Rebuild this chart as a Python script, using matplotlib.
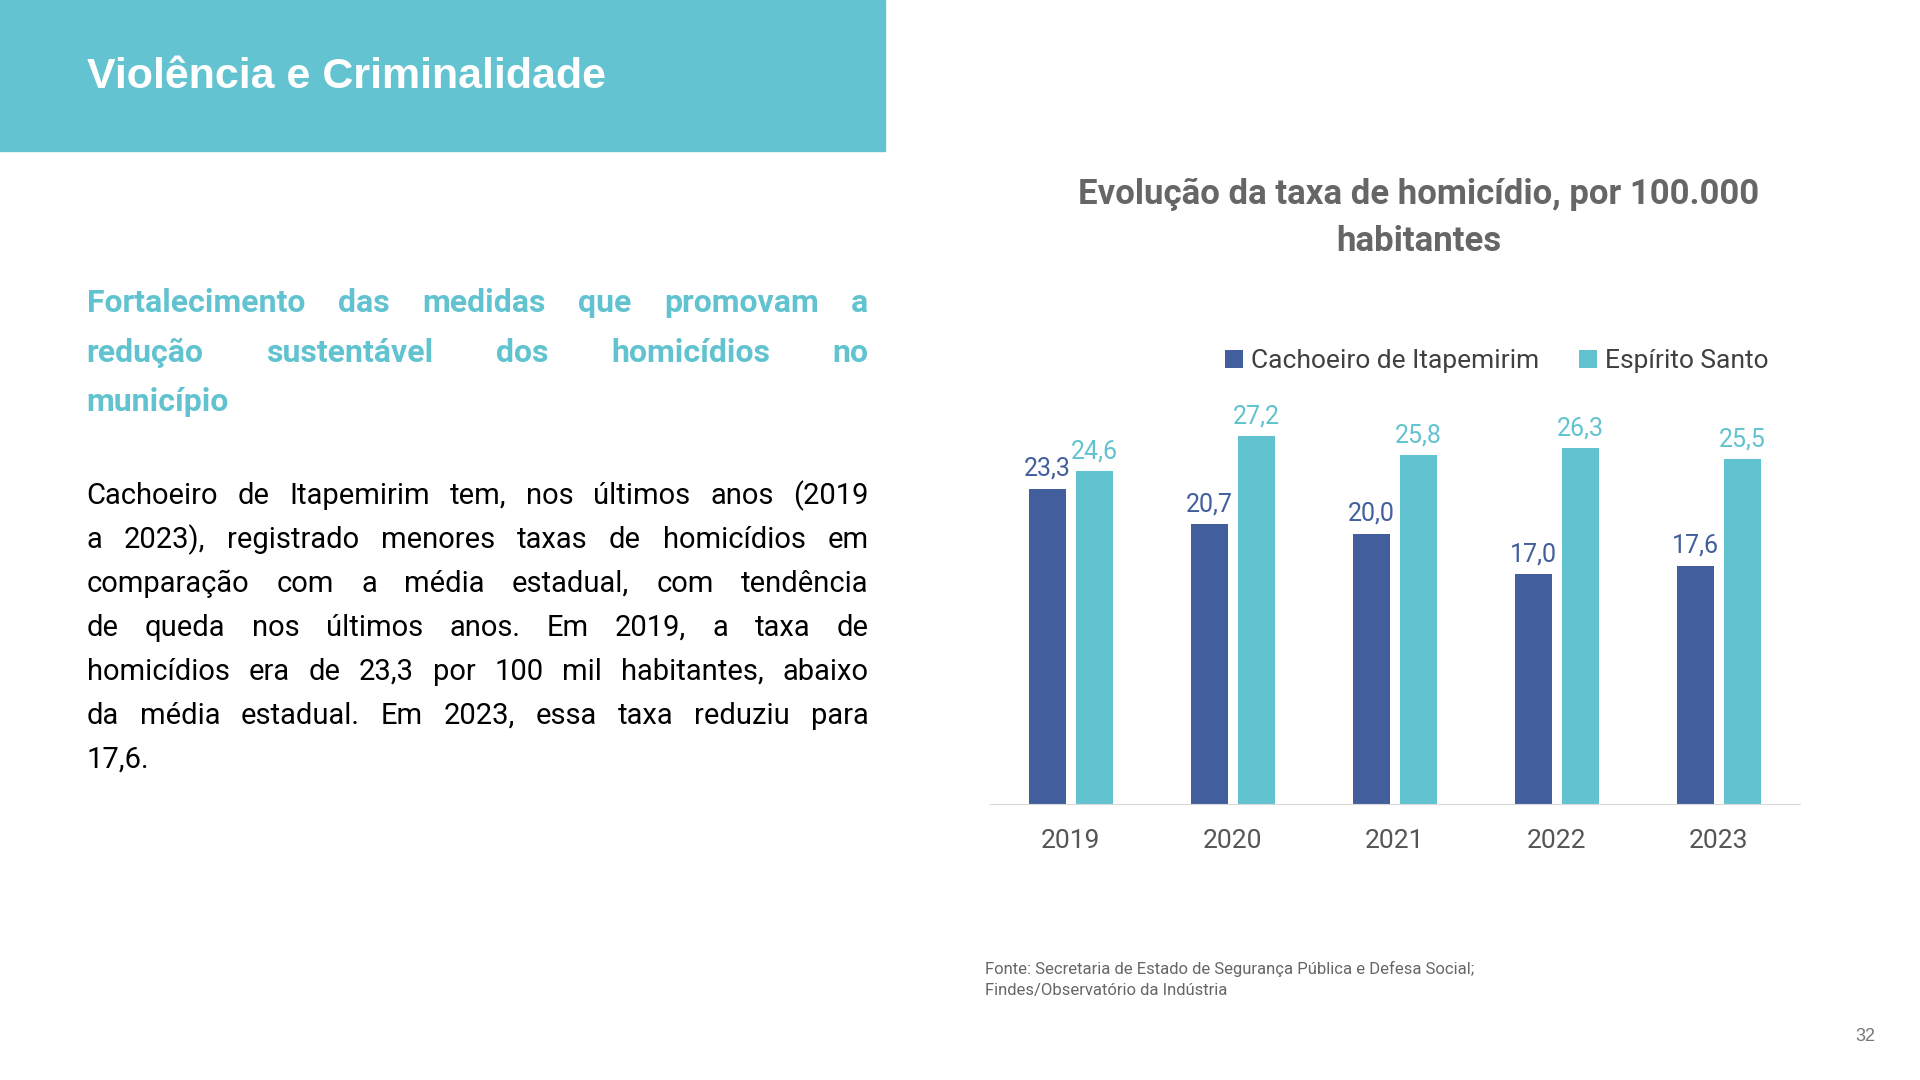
import matplotlib
matplotlib.use("Agg")
import matplotlib.pyplot as plt
import numpy as np

FONT = ['Liberation Sans Narrow', 'Roboto', 'DejaVu Sans']
plt.rcParams['font.family'] = FONT

years = ['2019', '2020', '2021', '2022', '2023']
cachoeiro = [23.3, 20.7, 20.0, 17.0, 17.6]
espirito = [24.6, 27.2, 25.8, 26.3, 25.5]
series_names = ['Cachoeiro de Itapemirim', 'Espírito Santo']

DARK = '#425E9C'
TEAL = '#62C3D0'
GRAY = '#666666'

W, H = 1552.0, 873.0
def fx(x): return x / W
def fy(y): return 1 - y / H

fig = plt.figure(figsize=(19.2, 10.8), dpi=100)

# header band
fig.patches.append(plt.Rectangle((0, fy(122)), fx(715), 122 / H, transform=fig.transFigure,
                                 color='#63C3D0', zorder=0))
fig.text(fx(70), fy(62), 'Violência e Criminalidade', color='white', fontsize=31,
         fontweight='bold', family=['Liberation Sans', 'DejaVu Sans'], va='center')

renderer = fig.canvas.get_renderer()

def justify(lines, x0, x1, y0, dy, **kw):
    for i, line in enumerate(lines):
        y = fy(y0 + i * dy)
        words = line.split()
        if i == len(lines) - 1 or len(words) == 1:
            fig.text(fx(x0), y, line, va='center', **kw)
            continue
        ts = [fig.text(0, y, w, va='center', **kw) for w in words]
        widths = [t.get_window_extent(renderer).width / fig.bbox.width for t in ts]
        gap = (fx(x1) - fx(x0) - sum(widths)) / (len(words) - 1)
        x = fx(x0)
        for t, w in zip(ts, widths):
            t.set_x(x)
            x += w + gap

justify(['Fortalecimento das medidas que promovam a',
         'redução sustentável dos homicídios no',
         'município'], 70, 702, 245, 40, color=TEAL, fontsize=23, fontweight='bold')

justify(['Cachoeiro de Itapemirim tem, nos últimos anos (2019',
         'a 2023), registrado menores taxas de homicídios em',
         'comparação com a média estadual, com tendência',
         'de queda nos últimos anos. Em 2019, a taxa de',
         'homicídios era de 23,3 por 100 mil habitantes, abaixo',
         'da média estadual. Em 2023, essa taxa reduziu para',
         '17,6.'], 70, 702, 401, 35.5, color='black', fontsize=21)

fig.text(fx(1147), fy(157), 'Evolução da taxa de homicídio, por 100.000', ha='center', va='center',
         color=GRAY, fontsize=25, fontweight='bold')
fig.text(fx(1147), fy(195), 'habitantes', ha='center', va='center',
         color=GRAY, fontsize=25, fontweight='bold')

# chart
ax = fig.add_axes([fx(800), fy(650), fx(1455) - fx(800), (650 - 322) / H])
x = np.arange(len(years))
off, bw = 0.145, 0.23
b1 = ax.bar(x - off, cachoeiro, bw, color=DARK, label=series_names[0])
b2 = ax.bar(x + off, espirito, bw, color=TEAL, label=series_names[1])
for xi, v in zip(x, cachoeiro):
    ax.text(xi - off, v + 0.6, f'{v:.1f}'.replace('.', ','), ha='center', va='bottom',
            color=DARK, fontsize=18)
for xi, v in zip(x, espirito):
    ax.text(xi + off, v + 0.6, f'{v:.1f}'.replace('.', ','), ha='center', va='bottom',
            color=TEAL, fontsize=18)
ax.set_xlim(-0.5, 4.5)
ax.set_ylim(0, 30)
ax.set_yticks([])
ax.set_xticks(x)
ax.set_xticklabels(years, fontsize=19, color='#555555')
ax.tick_params(axis='x', length=0, pad=18)
for s in ['top', 'right', 'left']:
    ax.spines[s].set_visible(False)
ax.spines['bottom'].set_color('#D9D9D9')
ax.patch.set_alpha(0)

leg = fig.legend(handles=[b1, b2], loc='center', bbox_to_anchor=(fx(1210), fy(292)), ncol=2,
                 frameon=False, fontsize=19, handlelength=0.7, handleheight=0.7,
                 handletextpad=0.3, columnspacing=1.5, labelcolor='#404040')

fig.text(fx(796), fy(783), 'Fonte: Secretaria de Estado de Segurança Pública e Defesa Social;',
         color=GRAY, fontsize=12, va='center')
fig.text(fx(796), fy(801), 'Findes/Observatório da Indústria', color=GRAY, fontsize=12, va='center')
fig.text(fx(1516), fy(838), '32', color='#777777', fontsize=13, ha='right', va='center',
         family=['Liberation Sans', 'DejaVu Sans'])

fig.savefig('out.png', dpi=100)
